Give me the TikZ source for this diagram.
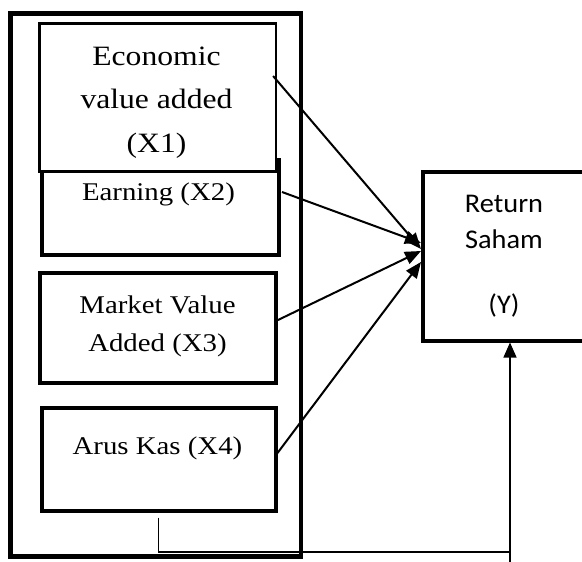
\documentclass[tikz,border=0pt]{standalone}
\usepackage{fontspec}
\setmainfont{Liberation Serif}[FakeStretch=1.13]
\newfontfamily\calibri{Carlito}[FakeStretch=1.05]
\usetikzlibrary{arrows.meta}

\begin{document}
\begin{tikzpicture}[x=1pt,y=-1pt,
  box node/.style={draw,rectangle,inner sep=0pt,line width=4pt},
  text node/.style={inner sep=0pt,align=center},
  link/.style={line width=2pt,-{Triangle[length=16pt,width=13pt]}}]
  \useasboundingbox (0,0) rectangle (582,562);
  % boxes
  \node [box node, line width=4.5pt, minimum width=290.5pt, minimum height=543pt] (group) at (155.75,285) {};
  \node [box node, minimum width=237.5pt, minimum height=95pt] (x2) at (160.25,207.5) {};
  \node [box node, line width=2.2pt, fill=white, minimum width=236.5pt, minimum height=148pt] (x1) at (157.75,97.5) {};
  \node [box node, minimum width=236pt, minimum height=110.5pt] (x3) at (158,327.75) {};
  \node [box node, minimum width=234pt, minimum height=103pt] (x4) at (158.5,459) {};
  \node [box node, minimum width=177pt, minimum height=168.5pt] (y) at (511.5,256.25) {};
  % labels
  \node [text node, anchor=north, font={\fontsize{28pt}{43.5pt}\selectfont}] (x1 text) at (156.5,46.5) {Economic\\value added\\(X1)};
  \node [text node, anchor=base, font={\fontsize{25.5pt}{38pt}\selectfont}] (x2 text) at (158.5,200) {Earning (X2)};
  \node [text node, anchor=north, font={\fontsize{25.5pt}{38pt}\selectfont}] (x3 text) at (157.5,295.6) {Market Value\\Added (X3)};
  \node [text node, anchor=base, font={\fontsize{25.5pt}{38pt}\selectfont}] (x4 text) at (157.5,454) {Arus Kas (X4)};
  \node [text node, anchor=north, font={\calibri\fontsize{27pt}{36pt}\selectfont}] (y text) at (504,195) {Return\\Saham\\[29pt](Y)};
  % arrows
  \coordinate (t1) at (421,249);
  \coordinate (t2) at (421,243);
  \coordinate (t3) at (421,251);
  \coordinate (t4) at (421,262);
  \draw [link] ([shift={(-4,-21.5)}]x1.east) -- (t1);
  \draw [link] ([shift={(1,-15.5)}]x2.east) -- (t2);
  \draw [link] ([shift={(0,-7.75)}]x3.east) -- (t3);
  \draw [link] ([shift={(0,-6)}]x4.east) -- (t4);
  % feedback line
  \coordinate (turn) at (510,552);
  \coordinate (foot) at (510,565);
  \draw [line width=1.3pt] ([yshift=-5pt]x4.south) |- (turn);
  \draw [line width=1.3pt, -{Triangle[length=15pt,width=13pt]}] (foot) -- (y.south -| foot);
\end{tikzpicture}
\end{document}
